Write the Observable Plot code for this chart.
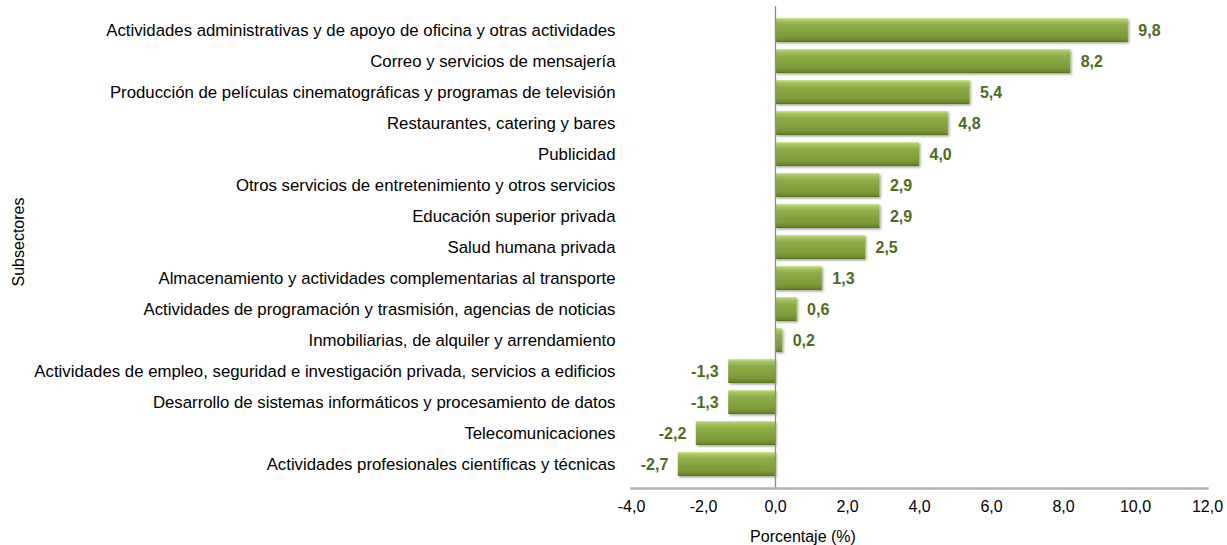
<!DOCTYPE html>
<html>
<head>
<meta charset="utf-8">
<script src="https://cdn.jsdelivr.net/npm/d3@7"></script>
<script src="https://cdn.jsdelivr.net/npm/@observablehq/plot@0.6"></script>
<style>
  html, body { margin: 0; padding: 0; background: #fff; }
  #chart svg { display: block; }
</style>
</head>
<body>
<div id="chart"></div>
<script>
const categories = [
  "Actividades administrativas y de apoyo de oficina y otras actividades",
  "Correo y servicios de mensajería",
  "Producción de películas cinematográficas y programas de televisión",
  "Restaurantes, catering y bares",
  "Publicidad",
  "Otros servicios de entretenimiento y otros servicios",
  "Educación superior privada",
  "Salud humana privada",
  "Almacenamiento y actividades complementarias al transporte",
  "Actividades de programación y trasmisión, agencias de noticias",
  "Inmobiliarias, de alquiler y arrendamiento",
  "Actividades de empleo, seguridad e investigación privada, servicios a edificios",
  "Desarrollo de sistemas informáticos y procesamiento de datos",
  "Telecomunicaciones",
  "Actividades profesionales científicas y técnicas"
];
const values = [9.8, 8.2, 5.4, 4.8, 4.0, 2.9, 2.9, 2.5, 1.3, 0.6, 0.2, -1.3, -1.3, -2.2, -2.7];
const xTicks = [-4, -2, 0, 2, 4, 6, 8, 10, 12];
const xLabel = "Porcentaje (%)";
const yLabel = "Subsectores";

const fmt = d => d.toFixed(1).replace(".", ",");
const data = categories.map((c, i) => ({sector: c, value: values[i]}));

const chart = Plot.plot({
  width: 1227,
  height: 545,
  marginLeft: 631,
  marginRight: 20,
  marginTop: 6,
  marginBottom: 57,
  style: {fontFamily: "'Liberation Sans', Arial, sans-serif", fontSize: "16px", color: "#000", background: "#fff"},
  x: {domain: [-4, 12], label: null},
  y: {domain: categories, padding: 0.22, label: null},
  marks: [
    Plot.barX(data, {y: "sector", x: "value", fill: "url(#barGrad)"}),
    Plot.ruleX([0], {stroke: "#8c8c8c", strokeWidth: 1.3}),
    Plot.frame({anchor: "bottom", stroke: "#b3b3b3", strokeWidth: 2.5}),
    Plot.axisX({ticks: xTicks, tickFormat: fmt, tickSize: 0, tickPadding: 12, label: null, fill: "#000", fontSize: 16}),
    Plot.axisY({tickSize: 0, tickPadding: 16, label: null, fill: "#000", fontSize: 16.8}),
    Plot.text(data.filter(d => d.value >= 0), {y: "sector", x: "value", text: d => fmt(d.value), textAnchor: "start", dx: 10, fill: "#4f6b22", fontWeight: "bold", fontSize: 16}),
    Plot.text(data.filter(d => d.value < 0), {y: "sector", x: "value", text: d => fmt(d.value), textAnchor: "end", dx: -10, fill: "#4f6b22", fontWeight: "bold", fontSize: 16})
  ]
});

const svg = d3.select(chart);
const defs = svg.insert("defs", ":first-child");
const g = defs.append("linearGradient").attr("id", "barGrad").attr("x1", 0).attr("y1", 0).attr("x2", 0).attr("y2", 1);
[[0, "#cfe39a"], [0.1, "#a8c662"], [0.3, "#8cad46"], [0.75, "#7e9c3a"], [0.92, "#6f8c2f"], [1, "#556f20"]]
  .forEach(([o, c]) => g.append("stop").attr("offset", o).attr("stop-color", c));
const f = defs.append("filter").attr("id", "barShadow").attr("x", "-10%").attr("y", "-20%").attr("width", "130%").attr("height", "160%");
f.append("feDropShadow").attr("dx", 1.5).attr("dy", 1.5).attr("stdDeviation", 1.2).attr("flood-color", "#000").attr("flood-opacity", 0.35);
svg.selectAll("rect[fill='url(#barGrad)'], g[fill='url(#barGrad)']").attr("filter", "url(#barShadow)");

svg.append("text")
  .attr("x", 803).attr("y", 536)
  .attr("text-anchor", "middle").attr("dominant-baseline", "central")
  .attr("font-size", 16).attr("fill", "#000")
  .text(xLabel);
svg.append("text")
  .attr("transform", "translate(18,242) rotate(-90)")
  .attr("text-anchor", "middle").attr("dominant-baseline", "central")
  .attr("font-size", 16).attr("fill", "#000")
  .text(yLabel);

document.getElementById("chart").appendChild(chart);
</script>
</body>
</html>
